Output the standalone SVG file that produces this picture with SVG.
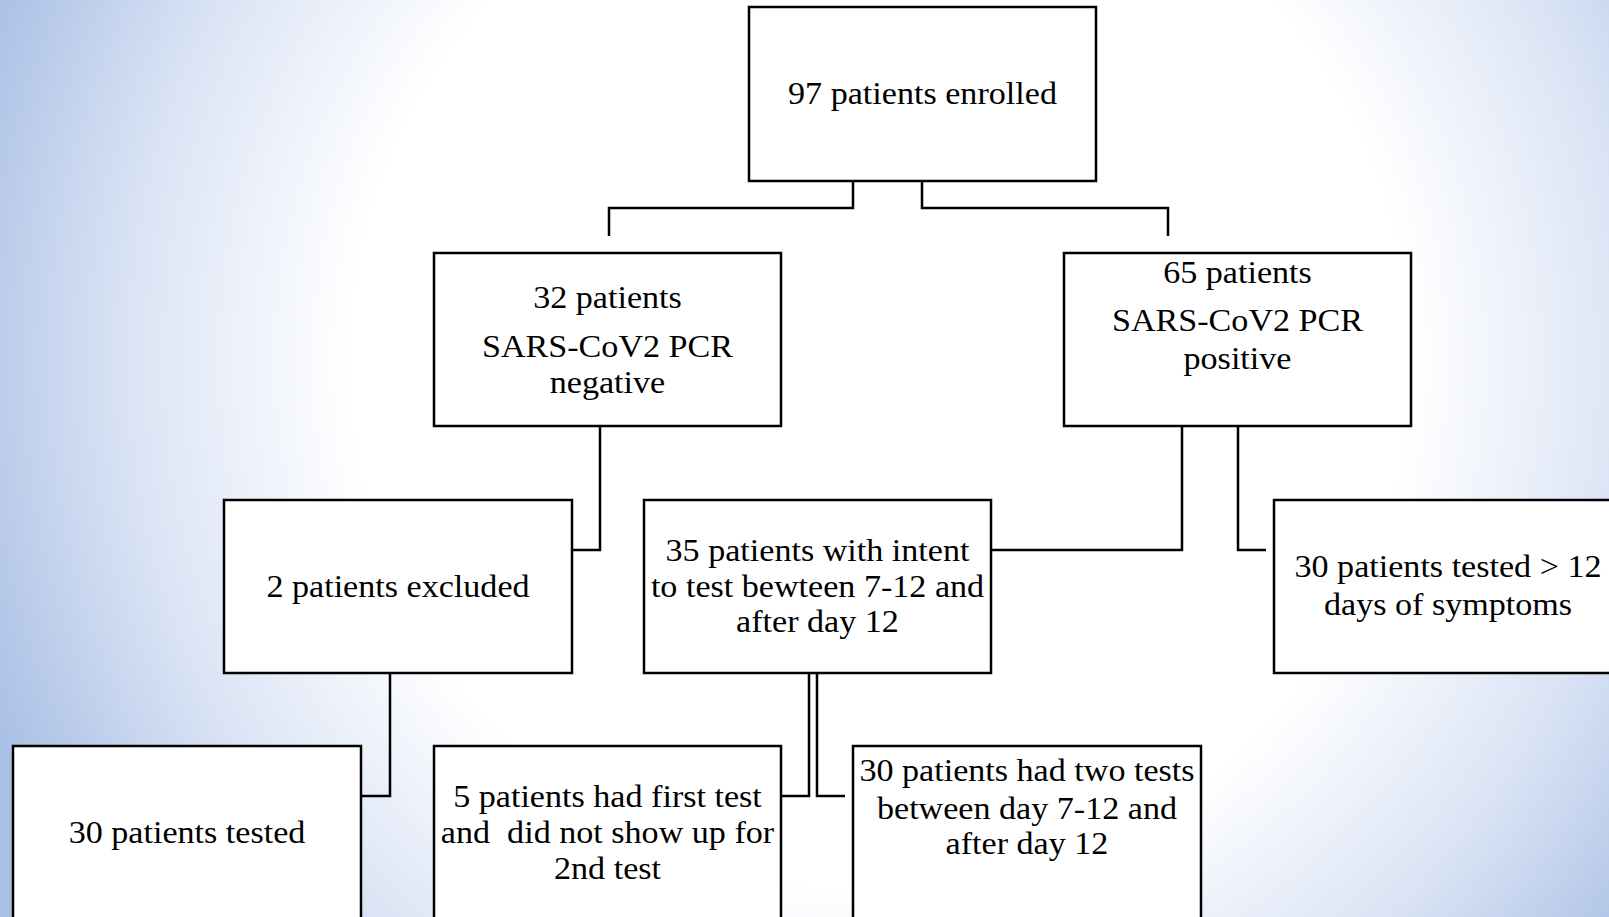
<svg xmlns="http://www.w3.org/2000/svg" width="1609" height="917" viewBox="0 0 1609 917">
<defs>
<radialGradient id="bg" gradientUnits="userSpaceOnUse" cx="880" cy="360" r="960">
<stop offset="0" stop-color="#ffffff"/>
<stop offset="0.55" stop-color="#ffffff"/>
<stop offset="0.78" stop-color="#dbe4f5"/>
<stop offset="1" stop-color="#a9bfe5"/>
</radialGradient>
<style>
.box{fill:#ffffff;stroke:#000000;stroke-width:2.5}
.ln{fill:none;stroke:#000000;stroke-width:2.5}
.t{font-family:"Liberation Serif","Times New Roman",serif;font-size:31px;fill:#000000;text-anchor:middle}
</style>
</defs>
<rect x="0" y="0" width="1609" height="917" fill="url(#bg)"/>
<g id="connectors">
<path class="ln" d="M853,181 V208 H609 V236"/>
<path class="ln" d="M922,181 V208 H1168 V236"/>
<path class="ln" d="M600,426 V550 H572"/>
<path class="ln" d="M1182,426 V550 H991"/>
<path class="ln" d="M1238,426 V550 H1266"/>
<path class="ln" d="M390,673 V796 H361"/>
<path class="ln" d="M809,673 V796 H782"/>
<path class="ln" d="M817,673 V796 H845"/>
</g>
<g id="n-enrolled">
<rect class="box" x="749" y="7" width="347" height="174"/>
<text class="t" transform="translate(922.5,0) scale(1.1,1)"><tspan x="0" y="104">97 patients enrolled</tspan></text>
</g>
<g id="n-negative">
<rect class="box" x="434" y="253" width="347" height="173"/>
<text class="t" transform="translate(607.5,0) scale(1.1,1)"><tspan x="0" y="308">32 patients</tspan><tspan x="0" y="357">SARS-CoV2 PCR</tspan><tspan x="0" y="393">negative</tspan></text>
</g>
<g id="n-positive">
<rect class="box" x="1064" y="253" width="347" height="173"/>
<text class="t" transform="translate(1237.5,0) scale(1.1,1)"><tspan x="0" y="283">65 patients</tspan><tspan x="0" y="331">SARS-CoV2 PCR</tspan><tspan x="0" y="369">positive</tspan></text>
</g>
<g id="n-excluded">
<rect class="box" x="224" y="500" width="348" height="173"/>
<text class="t" transform="translate(398,0) scale(1.1,1)"><tspan x="0" y="597">2 patients excluded</tspan></text>
</g>
<g id="n-intent">
<rect class="box" x="644" y="500" width="347" height="173"/>
<text class="t" transform="translate(817.5,0) scale(1.1,1)"><tspan x="0" y="561">35 patients with intent</tspan><tspan x="0" y="597">to test bewteen 7-12 and</tspan><tspan x="0" y="632">after day 12</tspan></text>
</g>
<g id="n-late">
<rect class="box" x="1274" y="500" width="348" height="173"/>
<text class="t" transform="translate(1448,0) scale(1.1,1)"><tspan x="0" y="577">30 patients tested &gt; 12</tspan><tspan x="0" y="615">days of symptoms</tspan></text>
</g>
<g id="n-tested">
<rect class="box" x="13" y="746" width="348" height="190"/>
<text class="t" transform="translate(187,0) scale(1.1,1)"><tspan x="0" y="843">30 patients tested</tspan></text>
</g>
<g id="n-noshow">
<rect class="box" x="434" y="746" width="347" height="190"/>
<text class="t" transform="translate(607.5,0) scale(1.1,1)"><tspan x="0" y="807">5 patients had first test</tspan><tspan x="0" y="843" style="white-space:pre">and  did not show up for</tspan><tspan x="0" y="879">2nd test</tspan></text>
</g>
<g id="n-twotests">
<rect class="box" x="853" y="746" width="348" height="190"/>
<text class="t" transform="translate(1027,0) scale(1.1,1)"><tspan x="0" y="781">30 patients had two tests</tspan><tspan x="0" y="819">between day 7-12 and</tspan><tspan x="0" y="854">after day 12</tspan></text>
</g>
</svg>
